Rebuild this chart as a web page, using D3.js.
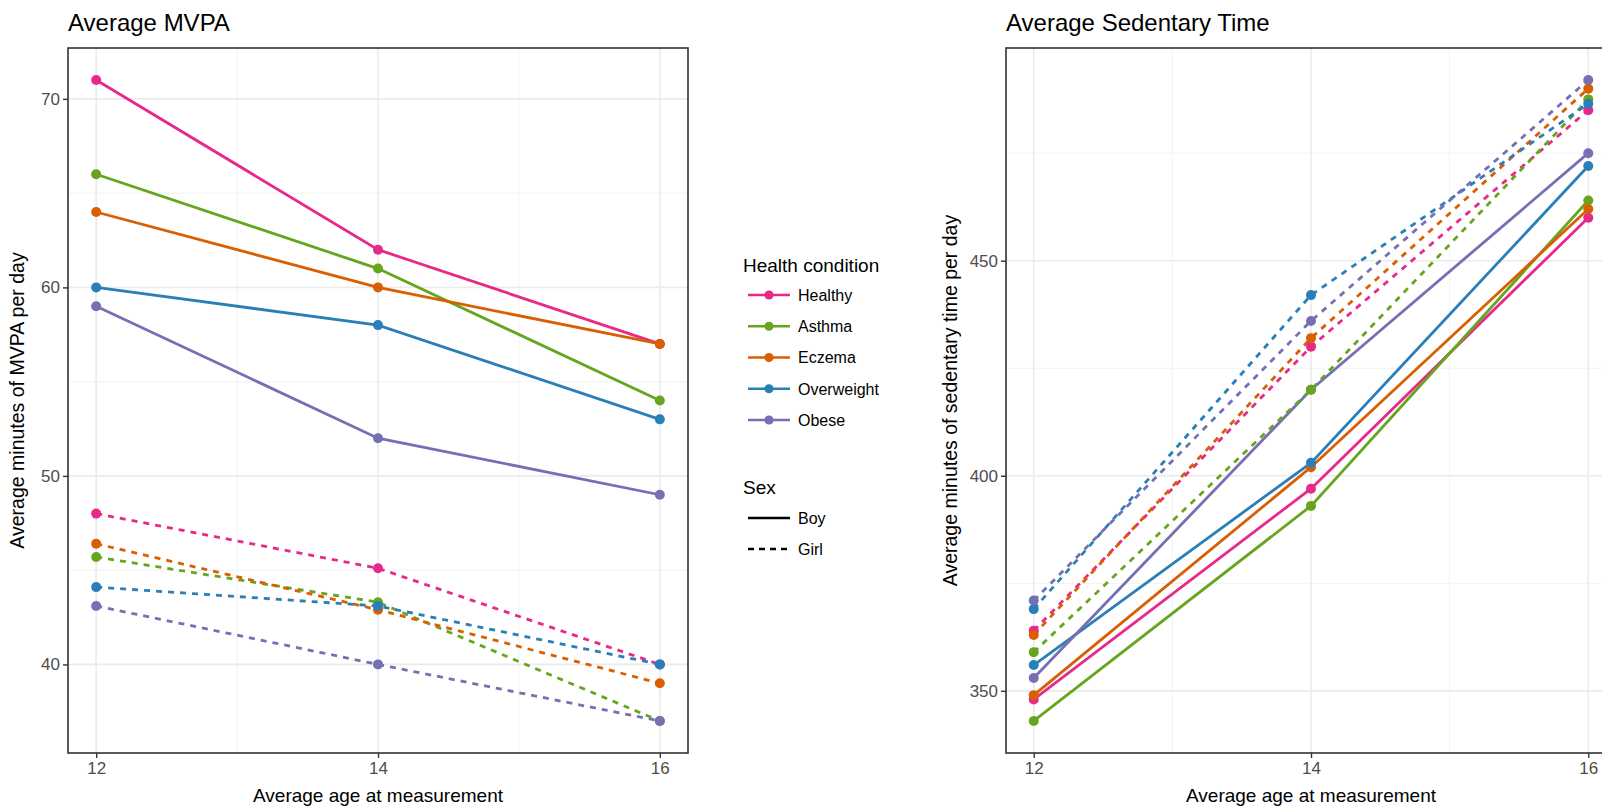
<!DOCTYPE html>
<html>
<head>
<meta charset="utf-8">
<script src="https://cdn.jsdelivr.net/npm/d3@7"></script>
<style>
  body { margin: 0; background: #fff; }
  text { font-family: "Liberation Sans", Arial, sans-serif; }
  .tick-label { font-family: "Liberation Sans Narrow", "Liberation Sans", Arial, sans-serif; }
</style>
</head>
<body>
<svg id="drawing_region"></svg>
<script>
// ---- data ----
const ages = [12, 14, 16];
const conditions = ['Healthy', 'Asthma', 'Eczema', 'Overweight', 'Obese'];
const sexes = ['Boy', 'Girl'];
const colors = ['#E7298A', '#66A61E', '#D95F02', '#2B7FB8', '#7570B3'];

// MVPA, one row per condition (Healthy, Asthma, Eczema, Overweight, Obese)
const mvpaBoy = [
    [71, 62, 57],
    [66, 61, 54],
    [64, 60, 57],
    [60, 58, 53],
    [59, 52, 49]
];
const mvpaGirl = [
    [48, 45.1, 40],
    [45.7, 43.3, 37],
    [46.4, 42.9, 39],
    [44.1, 43.1, 40],
    [43.1, 40, 37]
];

// sedentary time
const sedBoy = [
    [348, 397, 460],
    [343, 393, 464],
    [349, 402, 462],
    [356, 403, 472],
    [353, 420, 475]
];
const sedGirl = [
    [364, 430, 485],
    [359, 420, 487.5],
    [363, 432, 490],
    [369, 442, 486.5],
    [371, 436, 492]
];

const mvpaTicks = [40, 50, 60, 70];
const sedTicks = [350, 400, 450];
const ageTicks = [12, 14, 16];

function buildSeries(boy, girl) {
    let out = [];
    [boy, girl].forEach((tbl, s) => {
        tbl.forEach((vals, c) => {
            out.push({
                sex: sexes[s],
                condition: conditions[c],
                color: colors[c],
                values: vals.map((v, i) => ({ x: ages[i], y: v }))
            });
        });
    });
    return out;
}

const svg = d3.select('#drawing_region')
    .attr('width', 1602)
    .attr('height', 808);

svg.append('rect').attr('width', 1602).attr('height', 808).attr('fill', '#fff');

class LinePanel {
    constructor(config, series) {
        this.config = config;
        this.series = series;
        this.init();
        this.render();
    }
    init() {
        let self = this;
        const c = self.config;
        self.g = svg.append('g');

        const all = self.series.flatMap(d => d.values.map(v => v.y));
        const [ymin, ymax] = d3.extent(all);
        const pad = (ymax - ymin) * 0.05;
        const xpad = (16 - 12) * 0.05;

        self.xscale = d3.scaleLinear().domain([12 - xpad, 16 + xpad]).range([c.left, c.right]);
        self.yscale = d3.scaleLinear().domain([ymin - pad, ymax + pad]).range([c.bottom, c.top]);
    }
    render() {
        let self = this;
        const c = self.config;
        const g = self.g;
        const xs = self.xscale, ys = self.yscale;

        const clip = 'clip-' + c.id;
        g.append('clipPath').attr('id', clip)
            .append('rect')
            .attr('x', c.left).attr('y', c.top)
            .attr('width', c.right - c.left).attr('height', c.bottom - c.top);

        const panel = g.append('g').attr('clip-path', `url(#${clip})`);

        // minor grid
        const yMinor = c.yticks.slice(0, -1).map((t, i) => (t + c.yticks[i + 1]) / 2);
        const step = c.yticks[1] - c.yticks[0];
        yMinor.unshift(c.yticks[0] - step / 2);
        yMinor.push(c.yticks[c.yticks.length - 1] + step / 2);
        panel.selectAll('.yminor').data(yMinor).join('line')
            .attr('x1', c.left).attr('x2', c.right)
            .attr('y1', d => ys(d)).attr('y2', d => ys(d))
            .attr('stroke', '#f2f2f2').attr('stroke-width', 1);
        panel.selectAll('.xminor').data([13, 15]).join('line')
            .attr('y1', c.top).attr('y2', c.bottom)
            .attr('x1', d => xs(d)).attr('x2', d => xs(d))
            .attr('stroke', '#f2f2f2').attr('stroke-width', 1);

        // major grid
        panel.selectAll('.ymajor').data(c.yticks).join('line')
            .attr('x1', c.left).attr('x2', c.right)
            .attr('y1', d => ys(d)).attr('y2', d => ys(d))
            .attr('stroke', '#ebebeb').attr('stroke-width', 1.6);
        panel.selectAll('.xmajor').data(ageTicks).join('line')
            .attr('y1', c.top).attr('y2', c.bottom)
            .attr('x1', d => xs(d)).attr('x2', d => xs(d))
            .attr('stroke', '#ebebeb').attr('stroke-width', 1.6);

        const line = d3.line().x(d => xs(d.x)).y(d => ys(d.y));

        panel.selectAll('.series').data(self.series).join('path')
            .attr('d', d => line(d.values))
            .attr('fill', 'none')
            .attr('stroke', d => d.color)
            .attr('stroke-width', 2.8)
            .attr('stroke-dasharray', d => d.sex === 'Girl' ? '6,6' : null);

        self.series.forEach(s => {
            panel.selectAll(null).data(s.values).join('circle')
                .attr('cx', d => xs(d.x)).attr('cy', d => ys(d.y))
                .attr('r', 5)
                .attr('fill', s.color);
        });

        // panel border
        g.append('rect')
            .attr('x', c.left).attr('y', c.top)
            .attr('width', c.right - c.left).attr('height', c.bottom - c.top)
            .attr('fill', 'none').attr('stroke', '#333').attr('stroke-width', 1.6);

        // axes
        const yaxis = d3.axisLeft(ys).tickValues(c.yticks).tickFormat(d3.format('d')).tickSize(5).tickPadding(3);
        const xaxis = d3.axisBottom(xs).tickValues(ageTicks).tickFormat(d3.format('d')).tickSize(5).tickPadding(4);

        const yg = g.append('g').attr('transform', `translate(${c.left},0)`).call(yaxis);
        const xg = g.append('g').attr('transform', `translate(0,${c.bottom})`).call(xaxis);
        [yg, xg].forEach(a => {
            a.select('.domain').remove();
            a.selectAll('.tick line').attr('stroke', '#333').attr('stroke-width', 1.4);
            a.selectAll('.tick text')
                .attr('class', 'tick-label')
                .attr('fill', '#4d4d4d')
                .style('font-size', '17px');
        });

        // titles
        g.append('text')
            .attr('x', c.left).attr('y', 31)
            .style('font-size', '24px')
            .attr('fill', '#000')
            .text(c.title);

        g.append('text')
            .attr('x', xs(14))
            .attr('y', 802)
            .attr('text-anchor', 'middle')
            .style('font-size', '19px')
            .text('Average age at measurement');

        g.append('text')
            .attr('transform', `translate(${c.ytitleX},${(c.top + c.bottom) / 2}) rotate(-90)`)
            .attr('text-anchor', 'middle')
            .style('font-size', '19.5px')
            .text(c.ytitle);
    }
}

new LinePanel({
    id: 'mvpa', left: 68, right: 688, top: 48, bottom: 753,
    yticks: mvpaTicks, title: 'Average MVPA',
    ytitle: 'Average minutes of MVPA per day', ytitleX: 24
}, buildSeries(mvpaBoy, mvpaGirl));

new LinePanel({
    id: 'sed', left: 1006, right: 1616, top: 48, bottom: 753,
    yticks: sedTicks, title: 'Average Sedentary Time',
    ytitle: 'Average minutes of sedentary time per day', ytitleX: 957
}, buildSeries(sedBoy, sedGirl));

// ---- legend ----
const legend = svg.append('g');
legend.append('text')
    .attr('x', 743).attr('y', 272)
    .style('font-size', '19px')
    .text('Health condition');

const keyY = d3.scalePoint().domain(conditions).range([295, 420]);
const keys = legend.selectAll('.key').data(conditions).join('g')
    .attr('transform', d => `translate(0,${keyY(d)})`);
keys.append('line')
    .attr('x1', 748).attr('x2', 790)
    .attr('stroke', (d, i) => colors[i]).attr('stroke-width', 2.6);
keys.append('circle')
    .attr('cx', 769).attr('r', 4.6)
    .attr('fill', (d, i) => colors[i]);
keys.append('text')
    .attr('x', 798).attr('dy', '0.36em')
    .style('font-size', '16px')
    .text(d => d);

legend.append('text')
    .attr('x', 743).attr('y', 494)
    .style('font-size', '19px')
    .text('Sex');

const sexY = d3.scalePoint().domain(sexes).range([518, 549]);
const skeys = legend.selectAll('.skey').data(sexes).join('g')
    .attr('transform', d => `translate(0,${sexY(d)})`);
skeys.append('line')
    .attr('x1', 748).attr('x2', 790)
    .attr('stroke', '#000').attr('stroke-width', 2.6)
    .attr('stroke-dasharray', d => d === 'Girl' ? '6,5' : null);
skeys.append('text')
    .attr('x', 798).attr('dy', '0.36em')
    .style('font-size', '16px')
    .text(d => d);
</script>
</body>
</html>
